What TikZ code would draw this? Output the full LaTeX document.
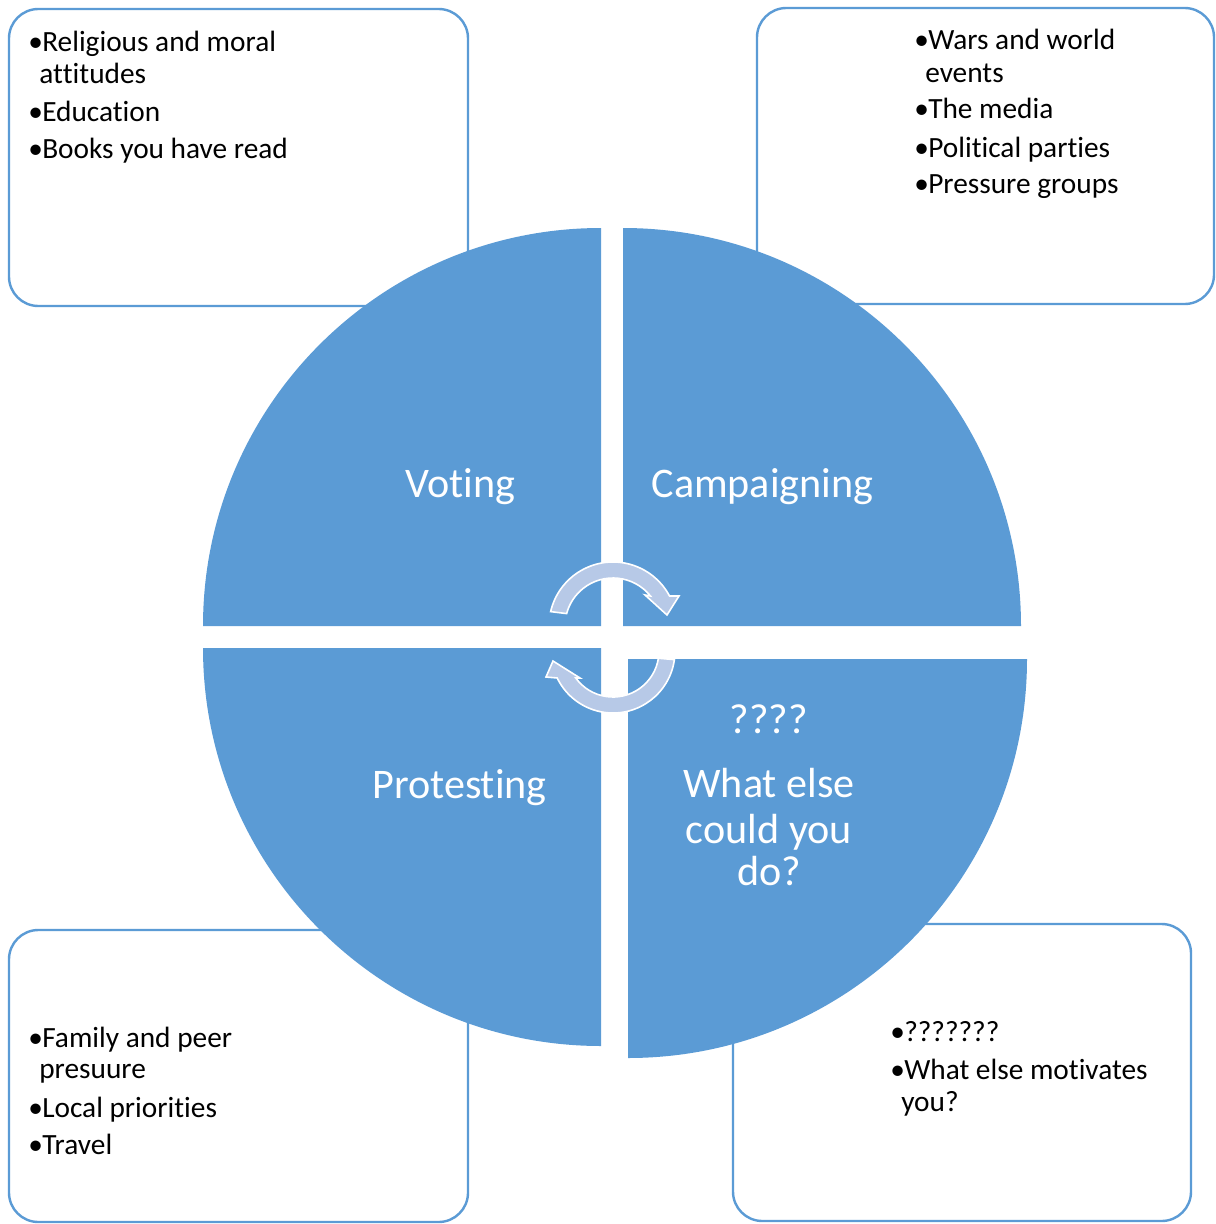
\documentclass[tikz,border=0pt]{standalone}
\usepackage{fontspec}
\setmainfont{Carlito}[Ligatures={NoCommon,NoRare,NoContextual},Contextuals={NoAlternate}]
\usetikzlibrary{calc}
\definecolor{qblue}{HTML}{5B9BD5}
\definecolor{arrowfill}{RGB}{183,201,231}
\newcommand{\tsep}{\kern0pt }
\begin{document}
\begin{tikzpicture}[x=0.75pt,y=-0.75pt,
  infobox/.style={draw=qblue, line width=1.8pt, rounded corners=22pt, fill=white},
  quad/.style={fill=qblue},
  biglabel/.style={text=white, font=\fontsize{31.6}{35}\selectfont, inner sep=0pt, anchor=base},
  btext/.style={font=\fontsize{22}{26}\selectfont, inner sep=0pt, anchor=base west},
  cyc/.style={fill=arrowfill, draw=white, line width=1.2pt, line join=miter}]
\useasboundingbox (0,0) rectangle (1216,1224);
% info boxes
\draw[infobox] (9,9) rectangle (468,306);
\draw[infobox] (757,8) rectangle (1214,304);
\draw[infobox] (9,930) rectangle (468,1222);
\draw[infobox] (733,924) rectangle (1191,1221);
% quadrants
\fill[quad] (601,626) -- (203,626) arc[start angle=180, end angle=270, radius=398] -- cycle;
\fill[quad] (623,626) -- (623,228) arc[start angle=270, end angle=360, radius=398] -- cycle;
\fill[quad] (601,648) -- (203,648) arc[start angle=180, end angle=90, radius=398] -- cycle;
\fill[quad] (628,659) -- (1027,659) arc[start angle=0, end angle=90, radius=399] -- cycle;
% cycle arrows
\coordinate (c1) at (613,626);
\coordinate (c2) at (613,651);
\filldraw[cyc] ($(c1)+(-167:64)$) arc[start angle=-167, end angle=-28, radius=64]
  -- (679,596) -- (667,615) -- (645,595)
  -- ($(c1)+(-38.7:48)$) arc[start angle=-38.7, end angle=-165, radius=48] -- cycle;
\filldraw[cyc] ($(c2)+(8:62)$) arc[start angle=8, end angle=154.2, radius=62]
  -- (546,677) -- (553,661) -- (580,678)
  -- ($(c2)+(144.1:46)$) arc[start angle=144.1, end angle=9, radius=46] -- cycle;
% quadrant labels
\node[biglabel] (voting) at (460.5,497) {Voting};
\node[biglabel] (camp) at (762.5,497) {Campaigning};
\node[biglabel] (prot) at (459.5,798) {Protest\tsep ing};
\node[biglabel] (q1) at (769,733) {????};
\node[biglabel] (q2) at (769,797) {What else};
\node[biglabel] (q3) at (769,843) {could you};
\node[biglabel] (q4) at (769,885) {do?};
% top left box
\node[btext] (tlb1) at (28,51.7) {•};
\node[btext] (tlt1) at (42,51.7) {Religious and moral};
\node[btext] (tlt1b) at (39,83) {at\tsep t\tsep i\tsep tudes};
\node[btext] (tlb2) at (28,121) {•};
\node[btext] (tlt2) at (42,121) {Educat\tsep ion};
\node[btext] (tlb3) at (28,158) {•};
\node[btext] (tlt3) at (42,158) {Books you have read};
% top right box
\node[btext] (trb1) at (914,49) {•};
\node[btext] (trt1) at (928,49) {Wars and world};
\node[btext] (trt1b) at (925,82) {events};
\node[btext] (trb2) at (914,118) {•};
\node[btext] (trt2) at (928,118) {The media};
\node[btext] (trb3) at (914,157) {•};
\node[btext] (trt3) at (928,157) {Polit\tsep ical part\tsep ies};
\node[btext] (trb4) at (914,193) {•};
\node[btext] (trt4) at (928,193) {Pressure groups};
% bottom left box
\node[btext] (blb1) at (28,1047) {•};
\node[btext] (blt1) at (42,1047) {Family and peer};
\node[btext] (blt1b) at (39,1078) {presuure};
\node[btext] (blb2) at (28,1117) {•};
\node[btext] (blt2) at (42,1117) {Local priorit\tsep ies};
\node[btext] (blb3) at (28,1154) {•};
\node[btext] (blt3) at (42,1154) {Travel};
% bottom right box
\node[btext] (brb1) at (890,1041) {•};
\node[btext] (brt1) at (904,1041) {???????};
\node[btext] (brb2) at (890,1079) {•};
\node[btext] (brt2) at (904,1079) {What else mot\tsep ivates};
\node[btext] (brt2b) at (901,1111) {you?};
\end{tikzpicture}
\end{document}
